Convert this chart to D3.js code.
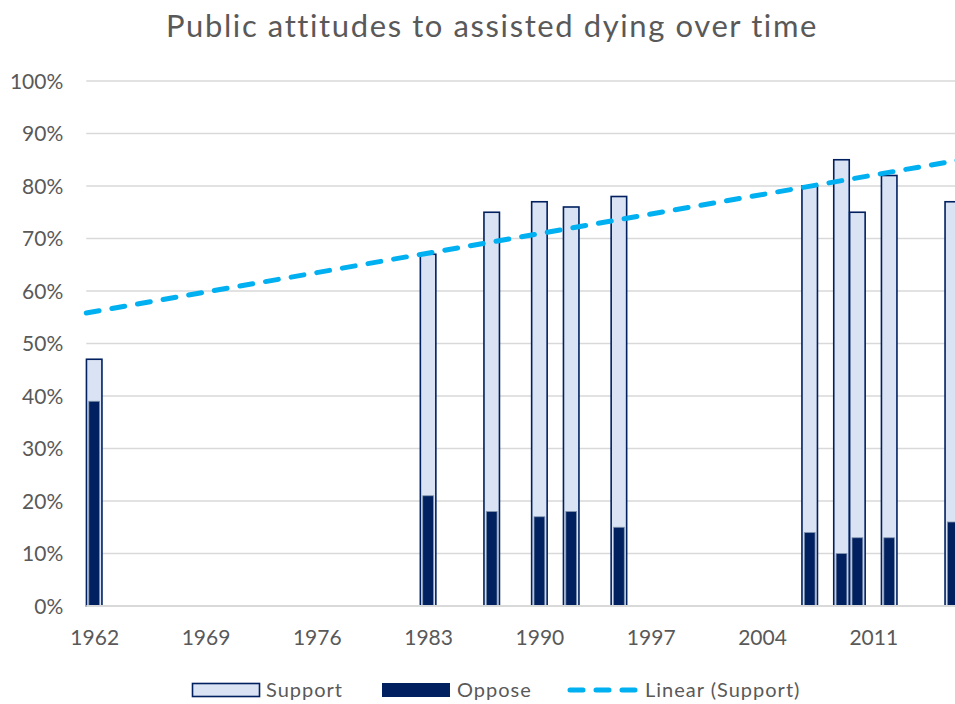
<!DOCTYPE html>
<meta charset="utf-8">
<head>
<title>Public attitudes to assisted dying over time</title>
<style>
  body { margin: 0; background: #fff; }
  text { font-family: Lato, "Open Sans", sans-serif; fill: #595959; }
  .grid line { stroke: #d9d9d9; stroke-width: 1.3; }
  .legend text { font-size: 20px; letter-spacing: 1px; }
</style>
</head>
<body>
<script src="https://cdn.jsdelivr.net/npm/d3@7"></script>
<script>

// survey years and results (%)
var years   = [1962, 1983, 1987, 1990, 1992, 1995, 2007, 2009, 2010, 2012, 2016];
var support = [47, 67, 75, 77, 76, 78, 80, 85, 75, 82, 77];
var oppose  = [39, 21, 18, 17, 18, 15, 14, 10, 13, 13, 16];

var yearTicks = [1962, 1969, 1976, 1983, 1990, 1997, 2004, 2011];
var pctTicks  = [0, 10, 20, 30, 40, 50, 60, 70, 80, 90, 100];

var width = 955, height = 704;
var plot = {left: 86.25, top: 81, bottom: 606};

var svg = d3.select("body").append("svg")
    .attr("width", width)
    .attr("height", height);

var x = d3.scaleLinear()
    .domain([1961.5, 2016.5])
    .range([plot.left, plot.left + 55 * 15.9]);

var y = d3.scaleLinear()
    .domain([0, 100])
    .range([plot.bottom, plot.top]);

// title
svg.append("text")
    .attr("x", 492)
    .attr("y", 37)
    .attr("text-anchor", "middle")
    .style("font-size", "31px")
    .style("letter-spacing", "1.6px")
    .text("Public attitudes to assisted dying over time");

// gridlines
svg.append("g")
    .attr("class", "grid")
    .selectAll("line")
    .data(pctTicks.filter(function(d) { return d > 0; }))
  .enter().append("line")
    .attr("x1", plot.left)
    .attr("x2", width)
    .attr("y1", function(d) { return y(d); })
    .attr("y2", function(d) { return y(d); });

// y axis labels
var yAxis = d3.axisLeft(y)
    .tickValues(pctTicks)
    .tickFormat(function(d) { return d + "%"; })
    .tickSize(0)
    .tickPadding(23);

svg.append("g")
    .attr("transform", "translate(" + plot.left + ",0)")
    .call(yAxis)
    .call(function(g) { g.select(".domain").remove(); })
    .selectAll("text")
    .attr("dy", "0.35em")
    .style("font-size", "21px")
    .style("fill", "#595959");

// bars
var data = years.map(function(d, i) {
  return {year: d, support: support[i], oppose: oppose[i]};
});

var bw = 15.5, ow = 10.8;

var bars = svg.append("g").selectAll("g")
    .data(data)
  .enter().append("g");

bars.append("rect")
    .attr("x", function(d) { return x(d.year) - bw / 2; })
    .attr("y", function(d) { return y(d.support); })
    .attr("width", bw)
    .attr("height", function(d) { return y(0) - y(d.support); })
    .style("fill", "#dae3f3")
    .style("stroke", "#002060")
    .style("stroke-width", 1.6);

bars.append("rect")
    .attr("x", function(d) { return x(d.year) - ow / 2; })
    .attr("y", function(d) { return y(d.oppose); })
    .attr("width", ow)
    .attr("height", function(d) { return y(0) - y(d.oppose); })
    .style("fill", "#002060")
    .style("stroke", "#8497b0")
    .style("stroke-width", 0.8);

// x axis
var xAxis = d3.axisBottom(x)
    .tickValues(yearTicks)
    .tickFormat(d3.format("d"))
    .tickSize(0)
    .tickPadding(24);

var gx = svg.append("g")
    .attr("transform", "translate(0," + plot.bottom + ")")
    .call(xAxis);
gx.select(".domain")
    .attr("d", "M" + plot.left + ",0H" + width)
    .style("stroke", "#d9d9d9")
    .style("stroke-width", 2);
gx.selectAll("text")
    .style("font-size", "21px")
    .style("fill", "#595959");

// linear trendline (least squares on support)
var mx = d3.mean(years), my = d3.mean(support);
var sxy = d3.sum(years, function(d, i) { return (d - mx) * (support[i] - my); });
var sxx = d3.sum(years, function(d) { return (d - mx) * (d - mx); });
var slope = sxy / sxx, icpt = my - slope * mx;
var trend = x.domain().map(function(t) { return [t, icpt + slope * t]; });

svg.append("path")
    .datum(trend)
    .attr("d", d3.line()
        .x(function(d) { return x(d[0]); })
        .y(function(d) { return y(d[1]); }))
    .style("fill", "none")
    .style("stroke", "#00b0f0")
    .style("stroke-width", 5)
    .style("stroke-linecap", "round")
    .style("stroke-dasharray", "13,13");

// legend
var lg = svg.append("g").attr("class", "legend");
lg.append("rect")
    .attr("x", 192.5).attr("y", 683.5).attr("width", 67).attr("height", 13)
    .style("fill", "#dae3f3").style("stroke", "#002060").style("stroke-width", 1.6);
lg.append("text").attr("x", 266).attr("y", 697).text("Support");

lg.append("rect")
    .attr("x", 382).attr("y", 683).attr("width", 68).attr("height", 14)
    .style("fill", "#002060");
lg.append("text").attr("x", 457).attr("y", 697).text("Oppose");

lg.append("line")
    .attr("x1", 570).attr("x2", 640).attr("y1", 690).attr("y2", 690)
    .style("stroke", "#00b0f0")
    .style("stroke-width", 5)
    .style("stroke-linecap", "round")
    .style("stroke-dasharray", "13,13");
lg.append("text").attr("x", 645).attr("y", 697).text("Linear (Support)");

</script>
</body>
